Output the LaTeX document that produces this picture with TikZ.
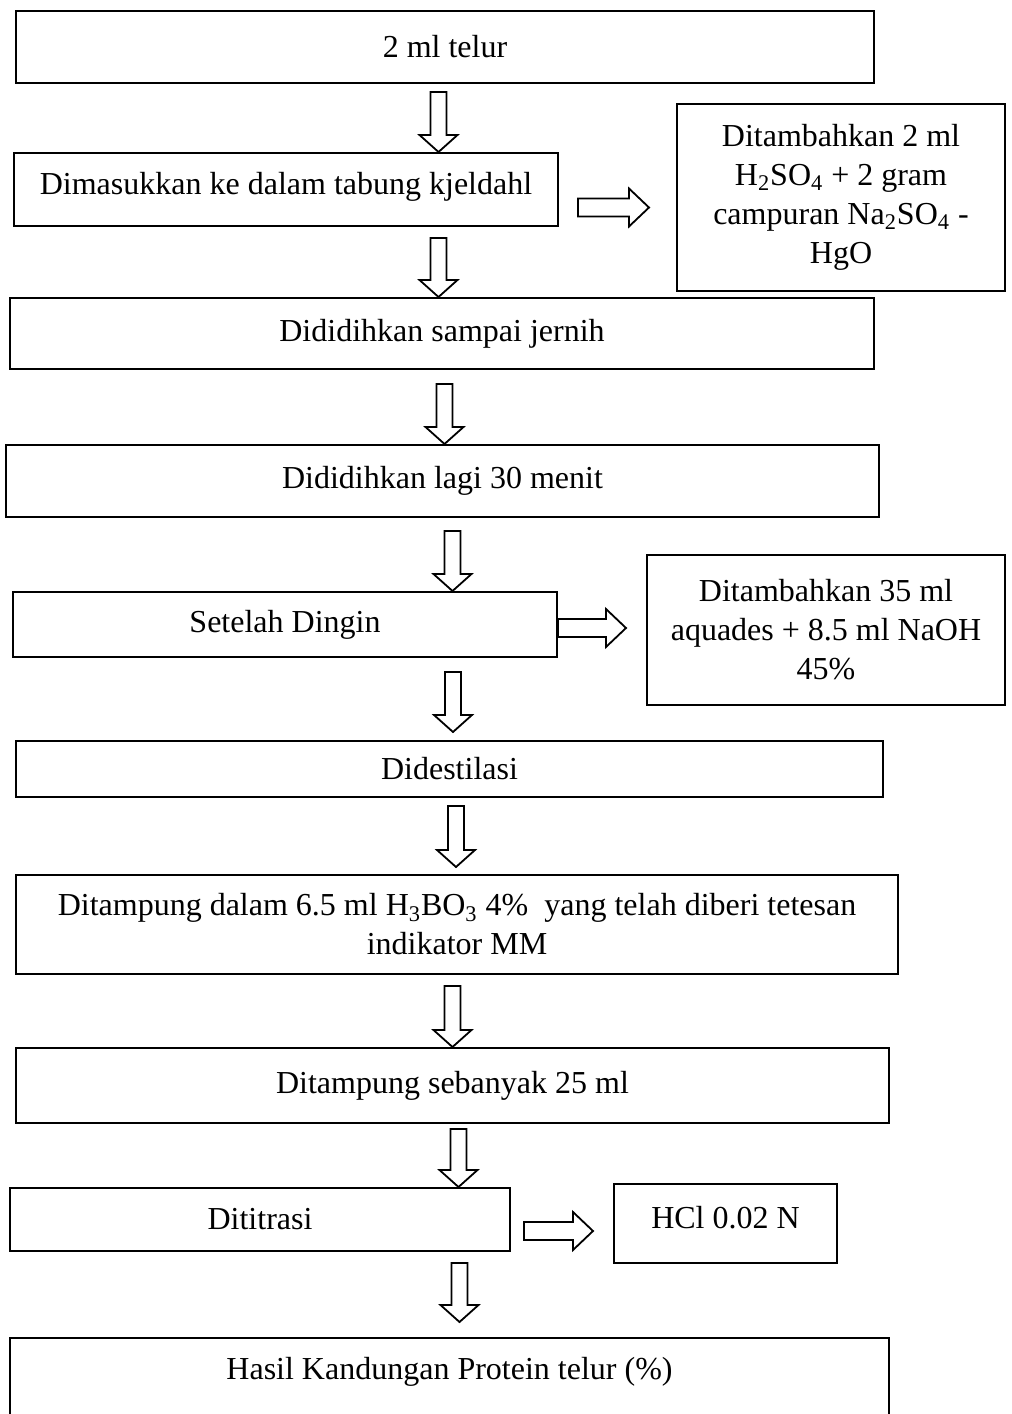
\documentclass[tikz,border=0pt]{standalone}
\usepackage{fontspec}
\setmainfont{Liberation Serif}
\usetikzlibrary{calc}

\begin{document}
\begin{tikzpicture}[x=0.5pt,y=-0.5pt,
    box/.style={draw, line width=1pt, inner sep=0pt, align=center, font=\fontsize{16}{19.5}\selectfont},
    blockdown/.style={draw, line width=0.9pt, fill=white, to path={let \p1=(\tikztostart), \p2=(\tikztotarget) in
        (\x1-4pt,\y1) -- (\x1+4pt,\y1) -- (\x1+4pt,\y2+8.5pt) -- (\x1+9.5pt,\y2+8.5pt) -- (\x1,\y2)
        -- (\x1-9.5pt,\y2+8.5pt) -- (\x1-4pt,\y2+8.5pt) -- cycle}},
    blockright/.style={draw, line width=0.9pt, fill=white, to path={let \p1=(\tikztostart), \p2=(\tikztotarget) in
        (\x1,\y1-4.5pt) -- (\x2-10pt,\y1-4.5pt) -- (\x2-10pt,\y1-9.5pt) -- (\x2,\y1)
        -- (\x2-10pt,\y1+9.5pt) -- (\x2-10pt,\y1+4.5pt) -- (\x1,\y1+4.5pt) -- cycle}}]
        \useasboundingbox (0,0) rectangle (1012,1414);

        %Main steps
        \node [box, minimum width=429pt, minimum height=36pt] (b1) at (445,47) {2 ml telur};
        \node [box, minimum width=272pt, minimum height=36.5pt, text depth=6pt] (b2) at (286,189.5) {Dimasukkan ke dalam tabung kjeldahl};
        \node [box, minimum width=432pt, minimum height=35.5pt] (b3) at (442,333.5) {Dididihkan sampai jernih};
        \node [box, minimum width=436.5pt, minimum height=36pt] (b4) at (442.5,481) {Dididihkan lagi 30 menit};
        \node [box, minimum width=272pt, minimum height=32.5pt] (b5) at (285,624.5) {Setelah Dingin};
        \node [box, minimum width=433.5pt, minimum height=28pt] (b6) at (449.5,769) {Didestilasi};
        \node [box, minimum width=441pt, minimum height=49.5pt] (b7) at (457,924.5) {Ditampung dalam 6.5 ml H\textsubscript{3}BO\textsubscript{3} 4\%~ yang telah diberi tetesan\\ indikator MM};
        \node [box, minimum width=436.5pt, minimum height=37.5pt] (b8) at (452.5,1085.5) {Ditampung sebanyak 25 ml};
        \node [box, minimum width=250pt, minimum height=31.5pt] (b9) at (260,1219.5) {Dititrasi};
        \node [box, minimum width=439.5pt, minimum height=42pt, text depth=12pt] (b10) at (449.5,1380) {Hasil Kandungan Protein telur (\%)};

        %Side boxes
        \node [box, minimum width=164pt, minimum height=93.5pt] (s1) at (841,197.5) {Ditambahkan 2 ml\\ H\textsubscript{2}SO\textsubscript{4} + 2 gram\\ campuran Na\textsubscript{2}SO\textsubscript{4} -\\ HgO};
        \node [box, minimum width=179pt, minimum height=75pt] (s2) at (826,630) {Ditambahkan 35 ml\\ aquades + 8.5 ml NaOH\\ 45\%};
        \node [box, minimum width=111.5pt, minimum height=39.5pt, text depth=6pt] (s3) at (725.5,1223.5) {HCl 0.02 N};

        %Down arrows
        \draw [blockdown] ($(b1.south)+(-6.5,8)$) to (b2.north);
        \draw [blockdown] ($(b2.south)+(152.5,11)$) to (b3.north);
        \draw [blockdown] ($(b3.south)+(2.5,14)$) to (b4.north);
        \draw [blockdown] ($(b4.south)+(10,13)$) to (b5.north);
        \draw [blockdown] ($(b5.south)+(168,14)$) to ([yshift=4pt]b6.north);
        \draw [blockdown] ($(b6.south)+(6.5,8)$) to ([yshift=3.5pt]b7.north);
        \draw [blockdown] ($(b7.south)+(-4.5,11)$) to (b8.north);
        \draw [blockdown] ($(b8.south)+(6,5)$) to (b9.north);
        \draw [blockdown] ($(b9.south)+(199.5,11)$) to ([yshift=7.5pt]b10.north);

        %Side arrows
        \draw [blockright] ($(b2.east)+(19,18)$) to ([xshift=-13.5pt]s1.west);
        \draw [blockright] ($(b5.east)+(0,3.5)$) to ([xshift=-10pt]s2.west);
        \draw [blockright] ($(b9.east)+(13,11.5)$) to ([xshift=-10pt]s3.west);

\end{tikzpicture}
\end{document}
